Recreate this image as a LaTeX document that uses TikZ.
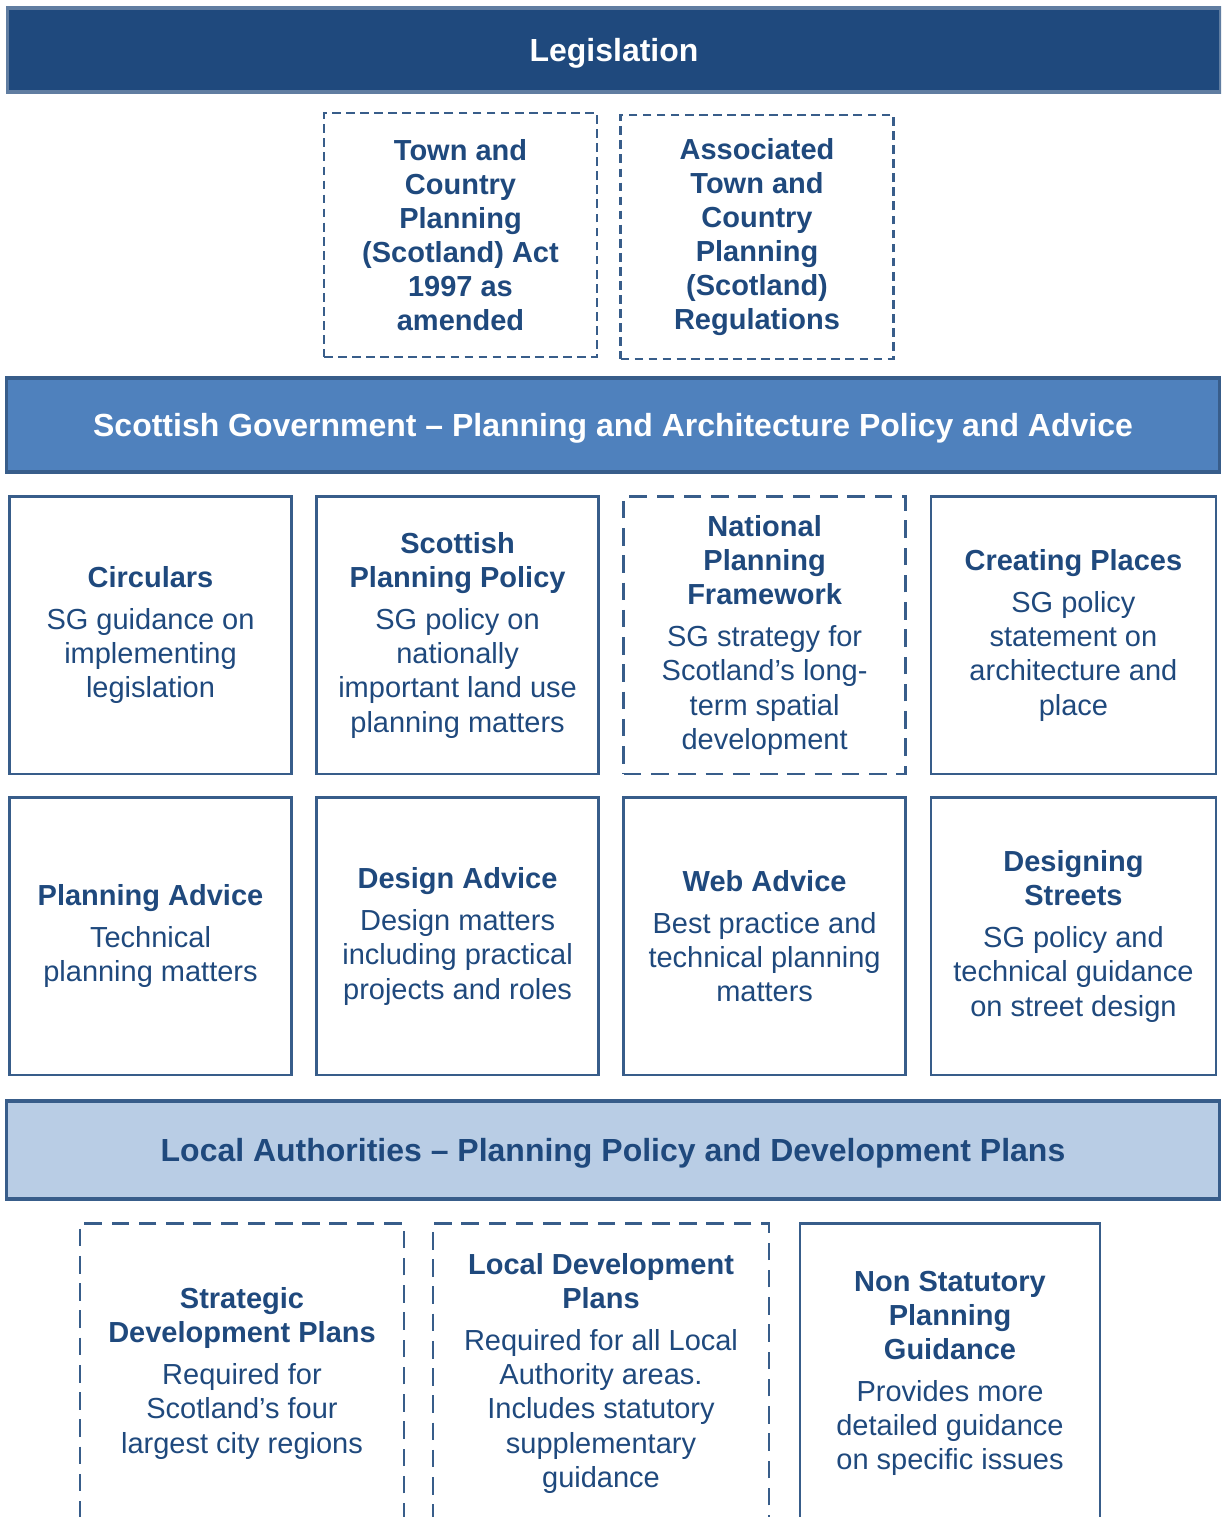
\documentclass[tikz,border=0pt]{standalone}
\usepackage{fontspec}
\setmainfont{Liberation Sans}
\usetikzlibrary{matrix,positioning}
\definecolor{navy}{HTML}{1F497D}
\definecolor{midblue}{HTML}{4F81BD}
\definecolor{paleblue}{HTML}{B9CDE5}
\definecolor{edgeblue}{HTML}{385D8A}
\newcommand{\hdr}[1]{\textbf{#1}}
\newcommand{\boxfont}{\fontsize{16.5}{19.4}\selectfont}
\newcommand{\barfont}{\fontsize{18.2}{21}\selectfont\bfseries}

\begin{document}
\begin{tikzpicture}[
    box/.style={draw=edgeblue, line width=1.6pt, align=center, text=navy, font=\boxfont, inner sep=2pt},
    cell/.style={box, minimum width=5.63cm, minimum height=5.545cm},
    dbox/.style={dash pattern=on 10pt off 5.5pt},
    actbox/.style={box, line width=1.4pt, dash pattern=on 5pt off 3pt, minimum width=5.46cm, minimum height=4.88cm, font=\boxfont\bfseries},
    bar/.style={draw=edgeblue, line width=2.2pt, minimum width=24.26cm, font=\barfont, text depth=0pt}]
  \useasboundingbox (0,0) rectangle (24.42,-30.34);
  \clip (0,0) rectangle (24.42,-30.34);
  % legislation
  \node[bar, fill=navy, draw=edgeblue!80!white, minimum height=1.68cm, text=white] (leg) at (12.28,-1.0) {Legislation};
  \node[actbox] (act) at (9.21,-4.7) {Town and\\Country\\Planning\\(Scotland) Act\\1997 as\\amended};
  \node[actbox] (regs) at (15.14,-4.74) {Associated\\Town and\\Country\\Planning\\(Scotland)\\Regulations};
  % scottish government
  \node[bar, fill=midblue, minimum height=1.88cm, text=white] (sg) at (12.26,-8.5) {Scottish Government -- Planning and Architecture Policy and Advice};
  \matrix[ampersand replacement=\&, column sep=0.455cm, row sep=0.42cm, inner sep=0pt, anchor=north west] (grid) at (0.16,-9.9) {
    \node[cell] (circ) {\hdr{Circulars}\\[4.5pt]SG guidance on\\implementing\\legislation}; \&
    \node[cell] (spp) {\hdr{Scottish}\\\hdr{Planning Policy}\\[4.5pt]SG policy on\\nationally\\important land use\\planning matters}; \&
    \node[cell, dbox] (npf) {\hdr{National}\\\hdr{Planning}\\\hdr{Framework}\\[4.5pt]SG strategy for\\Scotland’s long-\\term spatial\\development}; \&
    \node[cell, minimum width=5.7cm] (cp) {\hdr{Creating Places}\\[4.5pt]SG policy\\statement on\\architecture and\\place}; \\
    \node[cell] (pa) {\hdr{Planning Advice}\\[4.5pt]Technical\\planning matters}; \&
    \node[cell] (da) {\hdr{Design Advice}\\[4.5pt]Design matters\\including practical\\projects and roles}; \&
    \node[cell] (wa) {\hdr{Web Advice}\\[4.5pt]Best practice and\\technical planning\\matters}; \&
    \node[cell, minimum width=5.7cm] (ds) {\hdr{Designing}\\\hdr{Streets}\\[4.5pt]SG policy and\\technical guidance\\on street design}; \\
  };
  % local authorities
  \node[bar, fill=paleblue, minimum height=1.96cm, text=navy] (la) at (12.26,-23.0) {Local Authorities -- Planning Policy and Development Plans};
  \node[box, dbox, minimum width=6.48cm, minimum height=6cm, anchor=north] (sdp) at (4.84,-24.44) {\hdr{Strategic}\\\hdr{Development Plans}\\[4.5pt]Required for\\Scotland’s four\\largest city regions};
  \node[box, dbox, minimum width=6.72cm, minimum height=6cm, anchor=north] (ldp) at (12.02,-24.44) {\hdr{Local Development}\\\hdr{Plans}\\[4.5pt]Required for all Local\\Authority areas.\\Includes statutory\\supplementary\\guidance};
  \node[box, minimum width=6.0cm, minimum height=6cm, anchor=north] (nspg) at (19.0,-24.44) {\hdr{Non Statutory}\\\hdr{Planning}\\\hdr{Guidance}\\[4.5pt]Provides more\\detailed guidance\\on specific issues};
\end{tikzpicture}
\end{document}
